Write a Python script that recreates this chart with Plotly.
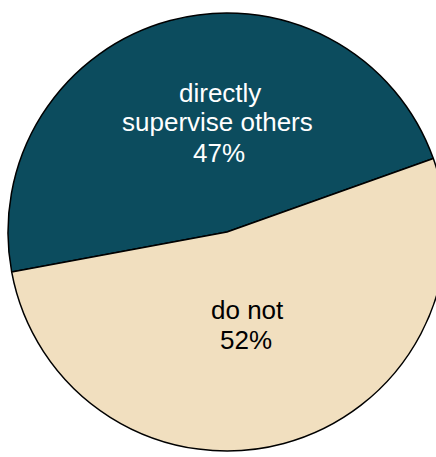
import plotly.graph_objects as go

# Share of respondents who directly supervise others
labels = ["directly supervise others", "do not"]
label_lines = [["directly", "supervise others"], ["do not"]]
percents = [47, 52]
colors = ["#0c4c5e", "#f1dfbf"]
text_colors = ["#ffffff", "#000000"]

W, H = 454, 457          # canvas; the visible window crops the right edge
CX, CY, R = 227, 232, 219  # pie centre and radius in pixels

fig = go.Figure(
    go.Pie(
        labels=labels,
        values=percents,
        sort=False,
        direction="clockwise",
        rotation=-100.5,
        marker=dict(colors=colors, line=dict(color="#000000", width=1.5)),
        textinfo="none",
        hoverinfo="label+percent",
        showlegend=False,
        domain=dict(x=[0, 1], y=[(H - CY - R) / H, (H - CY + R) / H]),
    )
)

# label block positions (pixel centres of each text line)
line_pos = [
    [(220, 92.5), (217.5, 122.5), (218.5, 153)],
    [(247.5, 309.5), (246.5, 340)],
]

annotations = []
for i, lines in enumerate(label_lines):
    texts = lines + [f"{percents[i]}%"]
    for t, (px, py) in zip(texts, line_pos[i]):
        annotations.append(
            dict(
                text=t,
                x=px / W,
                y=1 - py / H,
                xref="paper",
                yref="paper",
                xanchor="center",
                yanchor="middle",
                showarrow=False,
                font=dict(family="Arial, Liberation Sans, sans-serif", size=26, color=text_colors[i]),
            )
        )

fig.update_layout(
    width=W,
    height=H,
    autosize=False,
    margin=dict(l=0, r=0, t=0, b=0),
    paper_bgcolor="#ffffff",
    plot_bgcolor="#ffffff",
    annotations=annotations,
)

fig.write_html(
    "out.html",
    post_script="document.documentElement.style.overflow='hidden';document.body.style.overflow='hidden';document.body.style.margin='0';",
)
